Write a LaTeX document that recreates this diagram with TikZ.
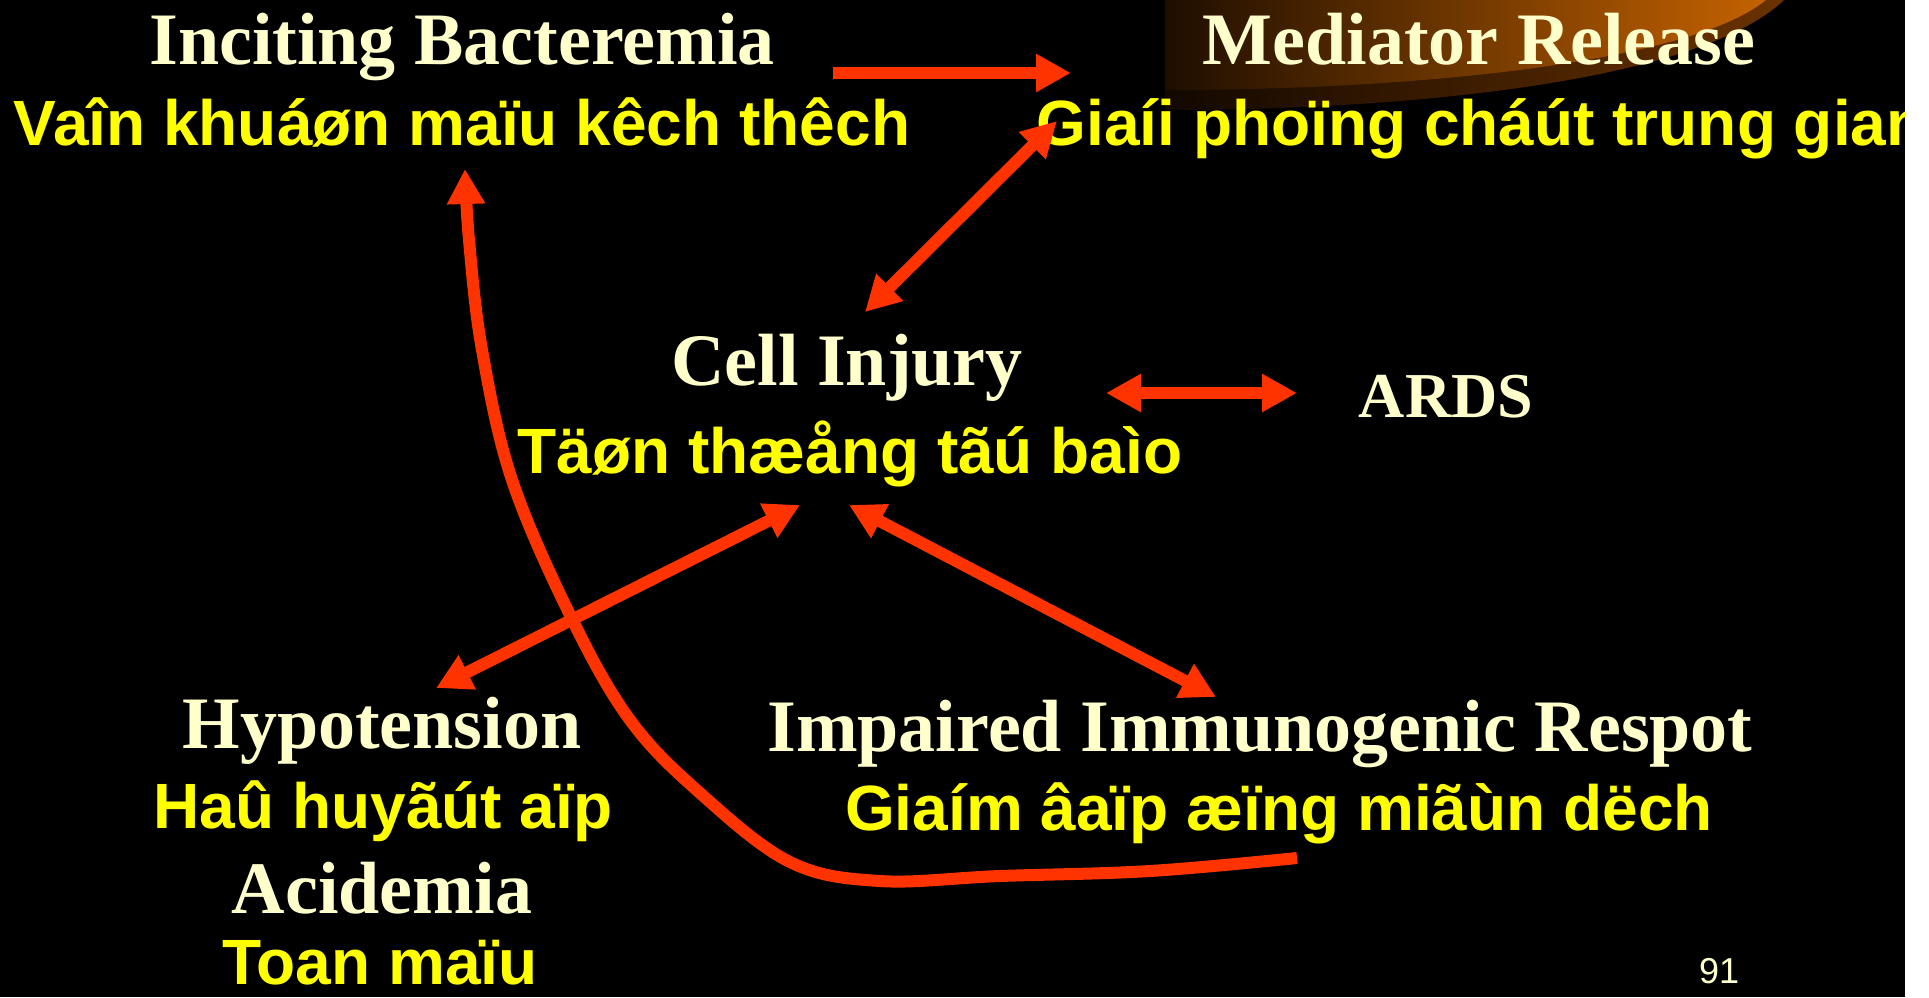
\documentclass[tikz,border=0pt]{standalone}
\usepackage{fontspec}
\setmainfont{Liberation Serif}
\newfontfamily\vietfont{Liberation Sans}
\usetikzlibrary{arrows.meta}
\definecolor{hd}{HTML}{FFFFCC}
\definecolor{vy}{HTML}{FFFF00}
\definecolor{ar}{HTML}{FF3300}
\definecolor{glowOutL}{HTML}{120800}
\definecolor{glowOutR}{HTML}{6A3200}
\definecolor{glowInL}{HTML}{1E0E00}
\definecolor{glowInR}{HTML}{C46200}
\begin{document}
\begin{tikzpicture}[x=1pt,y=-1pt,
  headtxt/.style={text=hd,font=\fontsize{74}{80}\selectfont\bfseries,anchor=base,inner sep=0pt},
  subtxt/.style={text=vy,font=\vietfont\fontsize{64}{70}\selectfont\bfseries,anchor=base,inner sep=0pt},
  tipr/.tip={Triangle[length=35pt,width=36pt]},
  conn/.style={draw=ar,line width=12pt,tipr-tipr},
  oneway/.style={draw=ar,line width=12pt,-tipr}]
\useasboundingbox (0,0) rectangle (1929,997);
\fill[white] (0,0) rectangle (1929,997);
\fill[black] (0,0) rectangle (1905,997);
\begin{scope}
\clip (0,0) rectangle (1905,997);
% decorative glow
\shade[left color=glowOutL,right color=glowOutR] (1165,0) -- (1165,110) .. controls (1420,110) and (1700,80) .. (1784,0) -- cycle;
\shade[left color=glowInL,right color=glowInR] (1165,0) -- (1165,90) .. controls (1420,90) and (1690,62) .. (1766,0) -- cycle;
% texts
\node[headtxt] (ib) at (462,64) {Inciting Bacteremia};
\node[subtxt] (ibv) at (462,145) {Vaîn khuáøn maïu kêch thêch};
\node[headtxt] (mr) at (1479,64) {Mediator Release};
\node[subtxt] (mrv) at (1481,145) {Giaíi phoïng cháút trung gian};
\node[headtxt] (ci) at (847,385) {Cell Injury};
\node[subtxt] (civ) at (850,473) {Täøn thæång tãú baìo};
\node[headtxt,font=\fontsize{64}{70}\selectfont\bfseries] (ards) at (1446,417) {ARDS};
\node[headtxt] (hy) at (382,748) {Hypotension};
\node[subtxt] (hyv) at (383,828) {Haû huyãút aïp};
\node[headtxt] (ac) at (382,913) {Acidemia};
\node[subtxt] (acv) at (380,984) {Toan maïu};
\node[headtxt] (ii) at (1260,751) {Impaired Immunogenic Respot};
\node[subtxt] (iiv) at (1279,830) {Giaím âaïp æïng miãùn dëch};
\node[text=hd,font=\vietfont\fontsize{36}{40}\selectfont,anchor=base,inner sep=0pt] (pg) at (1719,983) {91};
% connector end points
\coordinate (a1s) at (833,73);
\coordinate (a1e) at (1071,73);
\coordinate (a2s) at (1057,121);
\coordinate (a2e) at (865,312);
\coordinate (a3s) at (1106,393);
\coordinate (a3e) at (1297,393);
\coordinate (a4s) at (800,505);
\coordinate (a4e) at (436,688);
\coordinate (a5s) at (849,505);
\coordinate (a5e) at (1216,697);
% connectors
\draw[oneway] (a1s) -- (a1e);
\draw[conn] (a2s) -- (a2e);
\draw[conn] (a3s) -- (a3e);
\draw[conn] (a4s) -- (a4e);
\draw[conn] (a5s) -- (a5e);
\draw[draw=ar,line width=12pt,-tipr] plot[smooth,tension=0.6] coordinates {(1297,858) (1150,871) (1000,876) (880,881) (790,862) (700,793) (630,720) (571,617) (512,480) (482,350) (469,240) (465,169)};
\end{scope}
\end{tikzpicture}
\end{document}
